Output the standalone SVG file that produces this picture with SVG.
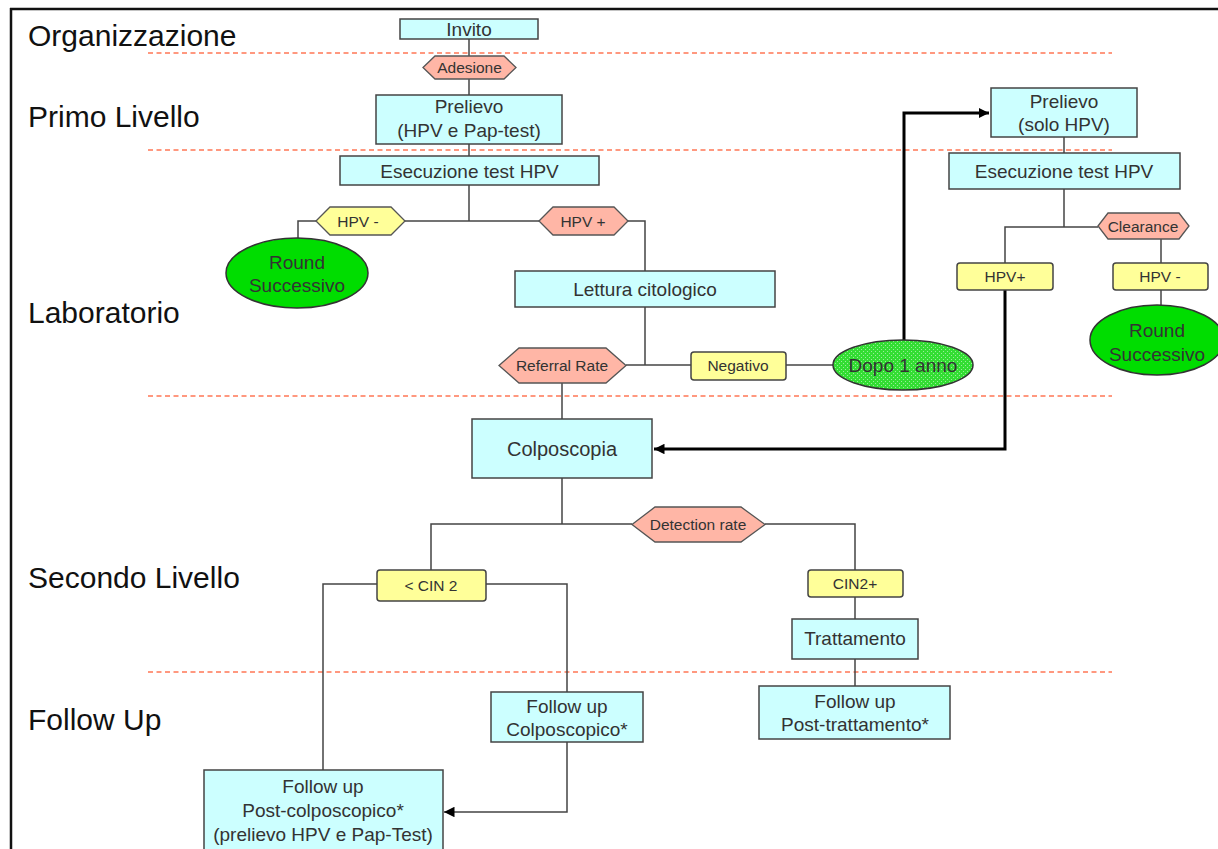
<svg xmlns="http://www.w3.org/2000/svg" width="1218" height="849" viewBox="0 0 1218 849">
<style>
.lane{font-family:"Liberation Sans",Arial,sans-serif;font-size:30px;fill:#111}
.t{font-family:"Liberation Sans",Arial,sans-serif;font-size:19px;fill:#333;text-anchor:middle}
.s{font-family:"Liberation Sans",Arial,sans-serif;font-size:15.5px;fill:#333;text-anchor:middle}
.box{fill:#ccffff;stroke:#444;stroke-width:1.5}
.hexr{fill:#ffb6a6;stroke:#555;stroke-width:1.3}
.hexy{fill:#ffff99;stroke:#555;stroke-width:1.3}
.yel{fill:#ffff99;stroke:#444;stroke-width:1.5}
.grn{fill:#00dd00;stroke:#333;stroke-width:1.5}
.dash{stroke:#ff7755;stroke-width:1.6;stroke-dasharray:5 3.5;fill:none}
.ln{stroke:#444;stroke-width:1.5;fill:none}
.thick{stroke:#000;stroke-width:3;fill:none}
</style>
<defs>
<pattern id="dots" width="4" height="4" patternUnits="userSpaceOnUse">
<rect width="4" height="4" fill="#33dd33"/>
<rect x="1" y="1" width="1" height="1" fill="#99ee99"/>
<rect x="3" y="3" width="1" height="1" fill="#99ee99"/>
</pattern>
<marker id="ah" viewBox="0 0 10 10" refX="10" refY="5" markerWidth="3.5" markerHeight="3.5" orient="auto" markerUnits="strokeWidth">
<path d="M0,0 L10,5 L0,10 z" fill="#000"/>
</marker>
<marker id="ahs" viewBox="0 0 10 10" refX="10" refY="5" markerWidth="7" markerHeight="7" orient="auto" markerUnits="strokeWidth">
<path d="M0,0 L10,5 L0,10 z" fill="#000"/>
</marker>
</defs>
<rect width="1218" height="849" fill="#fff"/>
<g id="frame">
<line x1="10" y1="9" x2="1218" y2="9" stroke="#111" stroke-width="2.5"/>
<line x1="11" y1="8" x2="11" y2="849" stroke="#111" stroke-width="2.5"/>
</g>
<g id="separators">
<line class="dash" x1="148" y1="53" x2="1112" y2="53"/>
<line class="dash" x1="148" y1="150" x2="1112" y2="150"/>
<line class="dash" x1="148" y1="396" x2="1112" y2="396"/>
<line class="dash" x1="148" y1="672" x2="1112" y2="672"/>
</g>
<g id="lanes">
<text class="lane" x="28" y="46">Organizzazione</text>
<text class="lane" x="28" y="127">Primo Livello</text>
<text class="lane" x="28" y="323">Laboratorio</text>
<text class="lane" x="28" y="588">Secondo Livello</text>
<text class="lane" x="28" y="730">Follow Up</text>
</g>
<g id="connectors">
<line class="ln" x1="469" y1="39" x2="469" y2="95"/>
<line class="ln" x1="469" y1="144" x2="469" y2="156"/>
<polyline class="ln" points="469,185 469,221"/>
<line class="ln" x1="405" y1="221" x2="539" y2="221"/>
<polyline class="ln" points="316,221 298,221 298,238"/>
<polyline class="ln" points="628,221 645,221 645,271"/>
<line class="ln" x1="645" y1="307" x2="645" y2="365"/>
<line class="ln" x1="626" y1="365" x2="691" y2="365"/>
<line class="ln" x1="786" y1="365" x2="833" y2="365"/>
<line class="ln" x1="562" y1="383" x2="562" y2="419"/>
<polyline class="thick" points="904,340 904,113 989,113" marker-end="url(#ah)"/>
<line class="ln" x1="1064" y1="137" x2="1064" y2="153"/>
<line class="ln" x1="1064" y1="189" x2="1064" y2="227"/>
<polyline class="ln" points="1098,227 1005,227 1005,263"/>
<line class="ln" x1="1161" y1="239" x2="1161" y2="263"/>
<line class="ln" x1="1161" y1="290" x2="1161" y2="305"/>
<polyline class="thick" points="1005,290 1005,449 654,449" marker-end="url(#ah)"/>
<line class="ln" x1="562" y1="478" x2="562" y2="524"/>
<polyline class="ln" points="632,524 431,524 431,570"/>
<polyline class="ln" points="765,524 855,524 855,570"/>
<polyline class="ln" points="377,584 323,584 323,770"/>
<polyline class="ln" points="486,584 567,584 567,692"/>
<line class="ln" x1="855" y1="597" x2="855" y2="619"/>
<line class="ln" x1="855" y1="659" x2="855" y2="686"/>
<polyline class="ln" points="567,742 567,812 444,812" marker-end="url(#ahs)"/>
</g>
<g id="invito"><rect class="box" x="400" y="19" width="138" height="20"/><text class="t" x="469" y="36">Invito</text></g>
<g id="adesione"><polygon class="hexr" points="423,67.5 435,56 504,56 516,67.5 504,79 435,79"/><text class="s" x="469.5" y="73">Adesione</text></g>
<g id="prelievo1"><rect class="box" x="376" y="95" width="186" height="49"/><text class="t" x="469" y="113">Prelievo</text><text class="t" x="469" y="137">(HPV e Pap-test)</text></g>
<g id="esecuzione1"><rect class="box" x="340" y="156" width="259" height="29"/><text class="t" x="469.5" y="178">Esecuzione test HPV</text></g>
<g id="hpvneg1"><polygon class="hexy" points="316,221 330,207 391,207 405,221 391,235 330,235"/><text class="s" x="358" y="227">HPV -</text></g>
<g id="hpvpos1"><polygon class="hexr" points="539,221 553,207 614,207 628,221 614,235 553,235"/><text class="s" x="583" y="227">HPV +</text></g>
<g id="round1"><ellipse class="grn" cx="297" cy="273" rx="71" ry="35"/><text class="t" x="297" y="269">Round</text><text class="t" x="297" y="292">Successivo</text></g>
<g id="lettura"><rect class="box" x="515" y="271" width="260" height="36"/><text class="t" x="645" y="296">Lettura citologico</text></g>
<g id="referral"><polygon class="hexr" points="499,365.5 519,348 606,348 626,365.5 606,383 519,383"/><text class="s" x="562" y="371">Referral Rate</text></g>
<g id="negativo"><rect class="yel" x="691" y="352" width="95" height="28" rx="3"/><text class="s" x="738" y="371">Negativo</text></g>
<g id="dopo"><ellipse cx="903" cy="365" rx="70" ry="25" fill="url(#dots)" stroke="#333" stroke-width="1.5"/><text class="t" x="903" y="372">Dopo 1 anno</text></g>
<g id="prelievo2"><rect class="box" x="991" y="88" width="146" height="49"/><text class="t" x="1064" y="108">Prelievo</text><text class="t" x="1064" y="131">(solo HPV)</text></g>
<g id="esecuzione2"><rect class="box" x="949" y="153" width="231" height="36"/><text class="t" x="1064" y="178">Esecuzione test HPV</text></g>
<g id="clearance"><polygon class="hexr" points="1098,226 1108,213 1179,213 1189,226 1179,239 1108,239"/><text class="s" x="1143" y="232">Clearance</text></g>
<g id="hpvpos2"><rect class="yel" x="957" y="263" width="96" height="27" rx="3"/><text class="s" x="1005" y="282">HPV+</text></g>
<g id="hpvneg2"><rect class="yel" x="1113" y="263" width="95" height="27" rx="3"/><text class="s" x="1160" y="282">HPV -</text></g>
<g id="round2"><ellipse class="grn" cx="1157" cy="340" rx="67" ry="35"/><text class="t" x="1157" y="337">Round</text><text class="t" x="1157" y="361">Successivo</text></g>
<g id="colposcopia"><rect class="box" x="472" y="419" width="180" height="59"/><text class="t" x="562" y="456" style="font-size:20px">Colposcopia</text></g>
<g id="detection"><polygon class="hexr" points="632,524.5 655,507 741,507 765,524.5 741,542 655,542"/><text class="s" x="698" y="530">Detection rate</text></g>
<g id="cin2minus"><rect class="yel" x="377" y="570" width="109" height="31" rx="3"/><text class="s" x="431" y="591">&lt; CIN 2</text></g>
<g id="cin2plus"><rect class="yel" x="808" y="570" width="95" height="27" rx="3"/><text class="s" x="855" y="589">CIN2+</text></g>
<g id="trattamento"><rect class="box" x="792" y="619" width="126" height="40"/><text class="t" x="855" y="645">Trattamento</text></g>
<g id="fu-trattamento"><rect class="box" x="759" y="686" width="191" height="53"/><text class="t" x="855" y="708">Follow up</text><text class="t" x="855" y="731">Post-trattamento*</text></g>
<g id="fu-colposcopico"><rect class="box" x="491" y="692" width="152" height="50"/><text class="t" x="567" y="713">Follow up</text><text class="t" x="567" y="736">Colposcopico*</text></g>
<g id="fu-postcolpo"><rect class="box" x="204" y="770" width="239" height="82"/><text class="t" x="323" y="793">Follow up</text><text class="t" x="323" y="817">Post-colposcopico*</text><text class="t" x="323" y="841">(prelievo HPV e Pap-Test)</text></g>
</svg>
